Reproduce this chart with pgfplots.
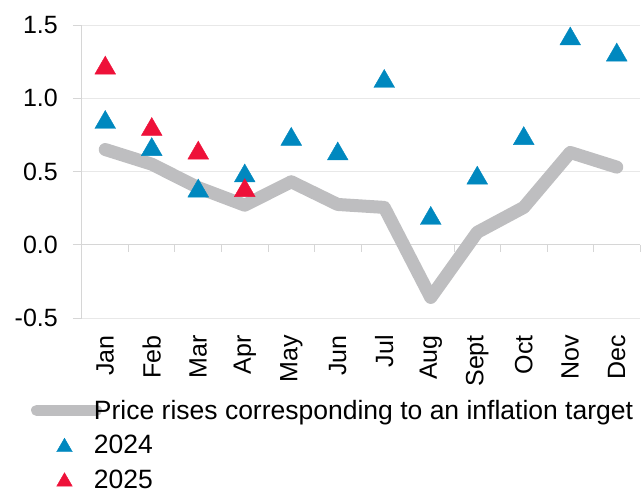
\documentclass[border=0pt]{standalone}
\usepackage{pgfplots}
\pgfplotsset{compat=1.18}
\usepackage{fontspec}
\setmainfont{Liberation Sans}
\definecolor{blue24}{HTML}{0088BF}
\definecolor{red25}{HTML}{EE1139}
\definecolor{greyline}{HTML}{BEBEC0}
\definecolor{gridc}{HTML}{E8E8E8}
\definecolor{axisc}{HTML}{D6D6D6}
\pgfplotsset{
  legline/.style={legend image code/.code={\draw[##1, line width=11pt] (0pt,0pt) -- (60pt,0pt);}},
  legtri/.style={legend image code/.code={\path[draw=none, fill=none] (0pt,0pt) -- (60pt,0pt); \path[##1, draw=none, mark size=9pt, mark options={yshift=-2pt}] plot coordinates {(28pt,0pt)};}},
}
\begin{document}
\begin{tikzpicture}
\useasboundingbox (-82pt,-173pt) rectangle (560pt,318pt);
\begin{axis}[
  scale only axis, width=558pt, height=293pt,
  xmin=-0.5, xmax=11.5, ymin=-0.5, ymax=1.5,
  axis lines*=left,
  axis line style={-},
  x axis line style={draw=none},
  y axis line style={axisc, line width=1pt},
  xtick={0,...,11},
  xticklabels={Jan,Feb,Mar,Apr,May,Jun,Jul,Aug,Sept,Oct,Nov,Dec},
  major x tick style={draw=none},
  ytick={-0.5,0,0.5,1,1.5},
  yticklabels={-0.5,0.0,0.5,1.0,1.5},
  ytick align=outside,
  major y tick style={axisc, line width=1pt},
  major tick length=9pt,
  ymajorgrids,
  grid style={gridc, line width=1pt},
  xticklabel style={yshift=-17pt, rotate=90, anchor=east, inner sep=0pt, font=\fontsize{25}{30}\selectfont},
  yticklabel style={anchor=east, inner sep=0pt, xshift=-15pt, font=\fontsize{25}{30}\selectfont},
  clip=false,
  legend cell align=left,
  legend style={at={(axis description cs:0,0)}, anchor=north west, xshift=-51pt, yshift=-82pt,
    draw=none, fill=none, inner sep=0pt, outer sep=0pt, row sep=14.5pt, column sep=-8pt,
    font=\fontsize{26.5}{30}\selectfont, nodes={inner sep=0pt}},
]
\draw[axisc, line width=1pt] (axis cs:-0.5,0) -- (axis cs:11.5,0);
\pgfplotsinvokeforeach{0.5,1.5,2.5,3.5,4.5,5.5,6.5,7.5,8.5,9.5,10.5,11.5}{\draw[axisc, line width=1pt] (axis cs:#1,0) -- (axis cs:#1,-0.048);}
\addplot[greyline, line width=13pt, line join=round, line cap=round, legline]
  coordinates {(0,0.65) (1,0.55) (2,0.39) (3,0.27) (4,0.43) (5,0.275) (6,0.255) (7,-0.36) (8,0.085) (9,0.255) (10,0.63) (11,0.53)};
\addlegendentry{Price rises corresponding to an inflation target}
\addplot[only marks, mark=triangle*, mark size=12pt, color=blue24, mark options={draw=none, fill=blue24, yshift=-3pt}, legtri]
  coordinates {(0,0.855) (1,0.67) (2,0.387) (3,0.49) (4,0.74) (5,0.64) (6,1.135) (7,0.2) (8,0.475) (9,0.745) (10,1.425) (11,1.315)};
\addlegendentry{2024}
\addplot[only marks, mark=triangle*, mark size=12pt, color=red25, mark options={draw=none, fill=red25, yshift=-3pt}, legtri]
  coordinates {(0,1.226) (1,0.807) (2,0.646) (3,0.39)};
\addlegendentry{2025}
\end{axis}
\end{tikzpicture}
\end{document}
